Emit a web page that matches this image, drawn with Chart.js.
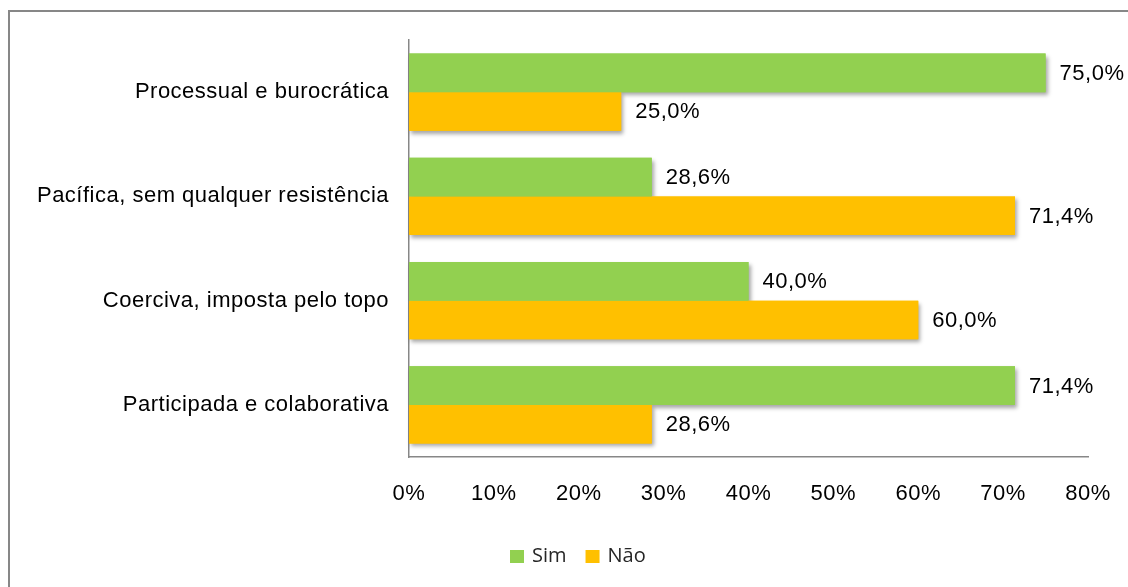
<!DOCTYPE html>
<html>
<head>
<meta charset="utf-8">
<script src="https://cdn.jsdelivr.net/npm/chart.js@4/dist/chart.umd.min.js"></script>
<style>
  html, body { margin: 0; padding: 0; background: #fff; }
  canvas { display: block; }
</style>
</head>
<body>
<canvas id="mudancaChart" width="1128" height="587"></canvas>
<script>
// Como a mudança foi conduzida — Sim / Não (percentagens)
const categorias = [
  "Processual e burocrática",
  "Pacífica, sem qualquer resistência",
  "Coerciva, imposta pelo topo",
  "Participada e colaborativa",
];
const valoresSim = [75.0, 28.6, 40.0, 71.4];
const valoresNao = [25.0, 71.4, 60.0, 28.6];
const ticksEixo = [0, 10, 20, 30, 40, 50, 60, 70, 80];

const corSim = "#92D050";
const corNao = "#FFC000";
const corEixo = "#878787";
const fonteTexto = "'Liberation Sans', Arial, sans-serif";
const fonteLegenda = "'Open Sans', sans-serif";
const espacamento = "0.5px";

const fmtPct = (v) => v.toFixed(1).replace(".", ",") + "%";

// moldura (só topo e esquerda ficam visíveis)
const moldura = {
  id: "moldura",
  beforeUpdate(chart) {
    chart.ctx.letterSpacing = espacamento;
  },
  beforeDraw(chart) {
    const ctx = chart.ctx;
    ctx.letterSpacing = espacamento;
    ctx.save();
    ctx.strokeStyle = corEixo;
    ctx.lineWidth = 2;
    ctx.beginPath();
    ctx.moveTo(9, chart.height);
    ctx.lineTo(9, 11);
    ctx.lineTo(chart.width, 11);
    ctx.stroke();
    ctx.restore();
  },
};

// sombra nas barras: passa primeiro só as sombras, as barras normais tapam o resto
const sombraBarras = {
  id: "sombraBarras",
  beforeDatasetsDraw(chart) {
    const ctx = chart.ctx;
    ctx.save();
    ctx.shadowColor = "rgba(0, 0, 0, 0.35)";
    ctx.shadowBlur = 4;
    ctx.shadowOffsetX = 2;
    ctx.shadowOffsetY = 3;
    chart.data.datasets.forEach((_, i) => {
      chart.getDatasetMeta(i).data.forEach((bar) => bar.draw(ctx));
    });
    ctx.restore();
  },
};

// rótulos de valor à direita de cada barra
const rotulosValor = {
  id: "rotulosValor",
  afterDatasetsDraw(chart) {
    const ctx = chart.ctx;
    ctx.save();
    ctx.font = "22px " + fonteTexto;
    ctx.fillStyle = "#000";
    ctx.textAlign = "left";
    ctx.textBaseline = "middle";
    chart.data.datasets.forEach((ds, i) => {
      chart.getDatasetMeta(i).data.forEach((bar, j) => {
        ctx.fillText(fmtPct(ds.data[j]), bar.x + 14, bar.y + 1);
      });
    });
    ctx.restore();
  },
};

// legenda em baixo, desenhada à mão para ficar no sítio certo
const legendaBaixo = {
  id: "legendaBaixo",
  afterDraw(chart) {
    const ctx = chart.ctx;
    ctx.save();
    ctx.letterSpacing = "0px";
    ctx.font = "20px " + fonteLegenda;
    ctx.textAlign = "left";
    ctx.textBaseline = "middle";
    const cy = 556;
    let x = 510;
    chart.data.datasets.forEach((ds) => {
      ctx.fillStyle = ds.backgroundColor;
      ctx.fillRect(x, cy - 6, 14, 13);
      ctx.fillStyle = "#262626";
      ctx.fillText(ds.label, x + 22, cy);
      x += 22 + ctx.measureText(ds.label).width + 19;
    });
    ctx.restore();
  },
};

const ctx = document.getElementById("mudancaChart").getContext("2d");

new Chart(ctx, {
  type: "bar",
  data: {
    labels: categorias,
    datasets: [
      { label: "Sim", data: valoresSim, backgroundColor: corSim },
      { label: "Não", data: valoresNao, backgroundColor: corNao },
    ],
  },
  options: {
    indexAxis: "y",
    responsive: false,
    animation: false,
    devicePixelRatio: 1,
    layout: { padding: { top: 40, right: 40, left: 0, bottom: 59 } },
    datasets: {
      bar: { categoryPercentage: 0.74, barPercentage: 1.0 },
    },
    scales: {
      x: {
        min: 0,
        max: 80,
        afterBuildTicks(scale) {
          scale.ticks = ticksEixo.map((v) => ({ value: v }));
        },
        afterFit(scale) {
          scale.height = 71;
          scale.paddingLeft = 0;
          scale.paddingRight = 0;
        },
        grid: { display: false, drawTicks: false },
        border: { display: true, color: corEixo, width: 1.5 },
        ticks: {
          padding: 24,
          color: "#000",
          font: { family: fonteTexto, size: 22 },
          callback: (v) => v + "%",
        },
      },
      y: {
        afterFit(scale) {
          scale.width = 409;
        },
        grid: { display: false, drawTicks: false },
        border: { display: true, color: corEixo, width: 1.5 },
        ticks: {
          padding: 20,
          color: "#000",
          font: { family: fonteTexto, size: 22 },
        },
      },
    },
    plugins: {
      legend: { display: false },
      tooltip: { enabled: false },
    },
  },
  plugins: [moldura, sombraBarras, rotulosValor, legendaBaixo],
});
</script>
</body>
</html>
